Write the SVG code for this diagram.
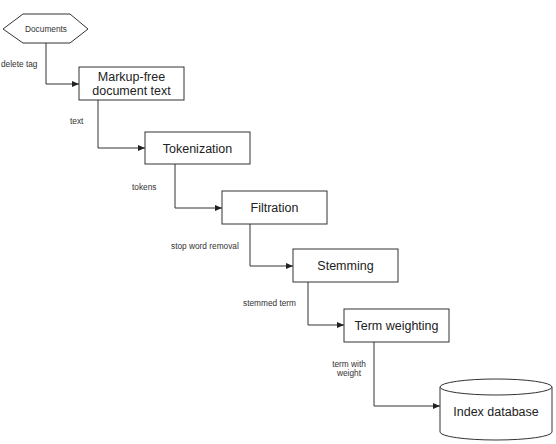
<svg xmlns="http://www.w3.org/2000/svg" width="556" height="444" viewBox="0 0 556 444">
<style>
.box{fill:#fff;stroke:#333;stroke-width:1}
.ln{fill:none;stroke:#333;stroke-width:1}
.t{font-family:"Liberation Sans",Arial,sans-serif;font-size:12.5px;fill:#222;text-anchor:middle}
.s{font-family:"Liberation Sans",Arial,sans-serif;font-size:8.3px;fill:#333}
</style>
<defs>
<marker id="arr" markerWidth="8" markerHeight="8" refX="7" refY="4" orient="auto" markerUnits="userSpaceOnUse">
<path d="M0,1 L7,4 L0,7 Z" fill="#222"/>
</marker>
</defs>
<rect width="556" height="444" fill="#fff"/>
<g id="connectors">
<path class="ln" d="M46,43 V84 H79" marker-end="url(#arr)"/>
<path class="ln" d="M98,100 V148 H145" marker-end="url(#arr)"/>
<path class="ln" d="M175,164 V208 H222" marker-end="url(#arr)"/>
<path class="ln" d="M250,224 V266 H293" marker-end="url(#arr)"/>
<path class="ln" d="M308,282 V325 H344" marker-end="url(#arr)"/>
<path class="ln" d="M374,342 V406 H440" marker-end="url(#arr)"/>
<text class="s" x="1" y="67">delete tag</text>
<text class="s" x="70" y="124">text</text>
<text class="s" x="132" y="190">tokens</text>
<text class="s" x="171" y="249">stop word removal</text>
<text class="s" x="243" y="306">stemmed term</text>
<text class="s" x="349" y="367" text-anchor="middle">term with</text>
<text class="s" x="349" y="376" text-anchor="middle">weight</text>
</g>
<g id="documents">
<polygon class="box" points="3,29 23,14 70,14 88,29 70,43 23,43"/>
<text class="s" x="46" y="32" text-anchor="middle">Documents</text>
</g>
<g id="markup">
<rect class="box" x="79" y="67" width="105" height="33"/>
<text class="t" x="131.5" y="81">Markup-free</text>
<text class="t" x="131.5" y="95">document text</text>
</g>
<g id="tokenization">
<rect class="box" x="145" y="132" width="105" height="32"/>
<text class="t" x="197.5" y="152.5">Tokenization</text>
</g>
<g id="filtration">
<rect class="box" x="222" y="191" width="105" height="33"/>
<text class="t" x="274.5" y="212">Filtration</text>
</g>
<g id="stemming">
<rect class="box" x="293" y="249" width="105" height="33"/>
<text class="t" x="345.5" y="270">Stemming</text>
</g>
<g id="termweighting">
<rect class="box" x="344" y="309" width="105" height="33"/>
<text class="t" x="396.5" y="330">Term weighting</text>
</g>
<g id="indexdb">
<path class="box" d="M440,387 V432 A56,8 0 0 0 552,432 V387"/>
<ellipse class="box" cx="496" cy="387" rx="56" ry="8"/>
<text class="t" x="496" y="416">Index database</text>
</g>
</svg>
